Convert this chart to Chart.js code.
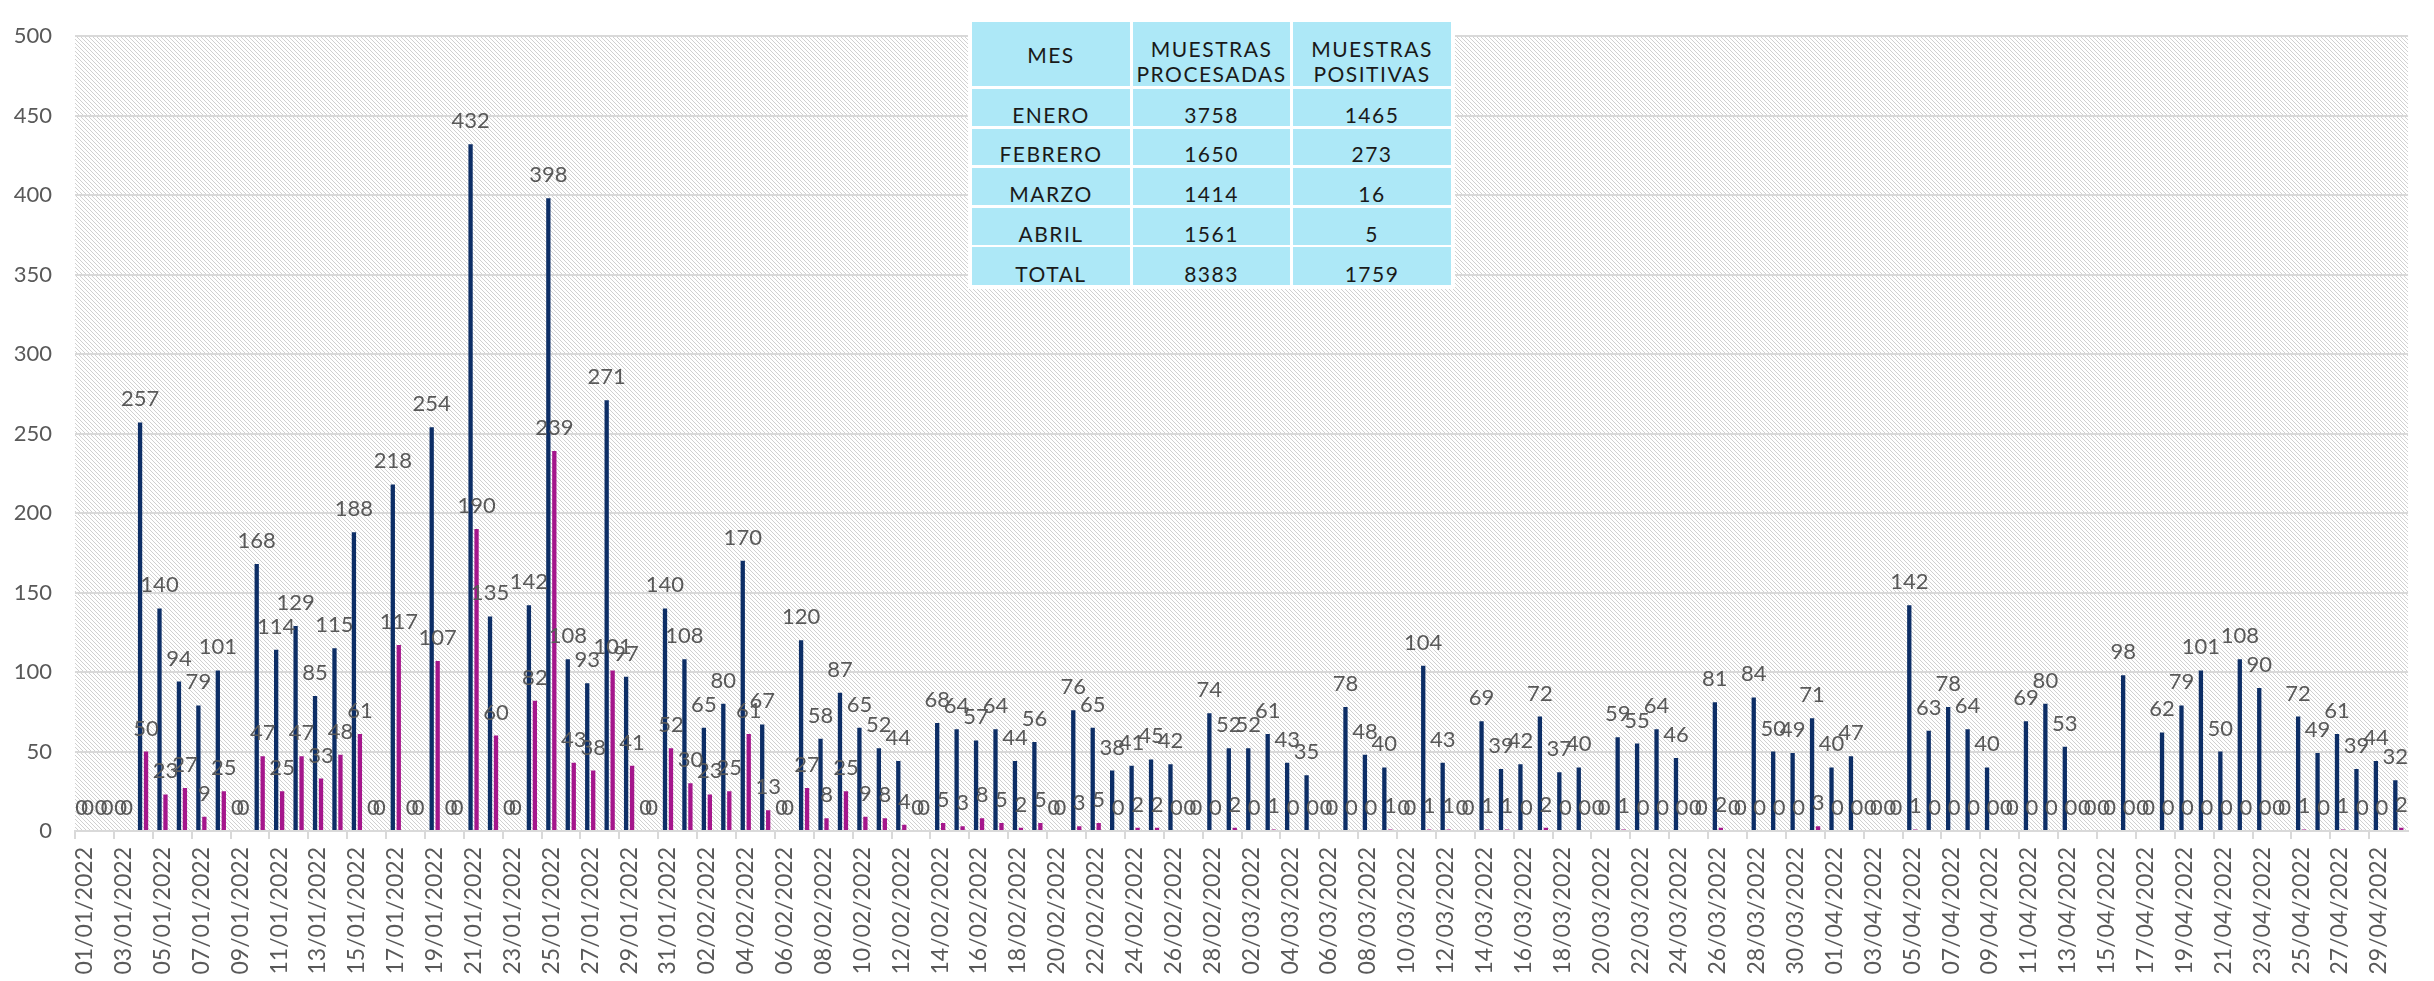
<!DOCTYPE html>
<html>
<head>
<meta charset="utf-8">
<script src="https://cdn.jsdelivr.net/npm/chart.js@4.4.1/dist/chart.umd.min.js"></script>
<style>
html,body{margin:0;padding:0;background:#fff;}
#wrap{position:relative;width:2434px;height:981px;overflow:hidden;}
#c{display:block;}
#tbl{position:absolute;left:968px;top:17px;width:487px;height:272px;background:#fff;}
.cell{position:absolute;background:#ade8f7;color:#1a1a1a;font-family:Lato,"Open Sans",sans-serif;font-size:21px;letter-spacing:1.5px;display:flex;justify-content:center;align-items:flex-end;text-align:center;box-sizing:border-box;line-height:1;padding-bottom:1px;}
.cell.h2{line-height:25px;padding-bottom:0;}
.cell.h1{padding-bottom:21px;}
</style>
</head>
<body>
<div id="wrap">
<canvas id="c" width="2434" height="981"></canvas>
<div id="tbl"></div>
</div>
<script>
// ---------- DATA ----------
const fechas = [
"01/01/2022","02/01/2022","03/01/2022","04/01/2022","05/01/2022","06/01/2022","07/01/2022","08/01/2022","09/01/2022","10/01/2022",
"11/01/2022","12/01/2022","13/01/2022","14/01/2022","15/01/2022","16/01/2022","17/01/2022","18/01/2022","19/01/2022","20/01/2022",
"21/01/2022","22/01/2022","23/01/2022","24/01/2022","25/01/2022","26/01/2022","27/01/2022","28/01/2022","29/01/2022","30/01/2022",
"31/01/2022","01/02/2022","02/02/2022","03/02/2022","04/02/2022","05/02/2022","06/02/2022","07/02/2022","08/02/2022","09/02/2022",
"10/02/2022","11/02/2022","12/02/2022","13/02/2022","14/02/2022","15/02/2022","16/02/2022","17/02/2022","18/02/2022","19/02/2022",
"20/02/2022","21/02/2022","22/02/2022","23/02/2022","24/02/2022","25/02/2022","26/02/2022","27/02/2022","28/02/2022","01/03/2022",
"02/03/2022","03/03/2022","04/03/2022","05/03/2022","06/03/2022","07/03/2022","08/03/2022","09/03/2022","10/03/2022","11/03/2022",
"12/03/2022","13/03/2022","14/03/2022","15/03/2022","16/03/2022","17/03/2022","18/03/2022","19/03/2022","20/03/2022","21/03/2022",
"22/03/2022","23/03/2022","24/03/2022","25/03/2022","26/03/2022","27/03/2022","28/03/2022","29/03/2022","30/03/2022","31/03/2022",
"01/04/2022","02/04/2022","03/04/2022","04/04/2022","05/04/2022","06/04/2022","07/04/2022","08/04/2022","09/04/2022","10/04/2022",
"11/04/2022","12/04/2022","13/04/2022","14/04/2022","15/04/2022","16/04/2022","17/04/2022","18/04/2022","19/04/2022","20/04/2022",
"21/04/2022","22/04/2022","23/04/2022","24/04/2022","25/04/2022","26/04/2022","27/04/2022","28/04/2022","29/04/2022","30/04/2022"
];

const procesadas = [
0,0,0,257,140,94,79,101,0,168,
114,129,85,115,188,0,218,0,254,0,
432,135,0,142,398,108,93,271,97,0,
140,108,65,80,170,67,0,120,58,87,
65,52,44,0,68,64,57,64,44,56,
0,76,65,38,41,45,42,0,74,52,
52,61,43,35,0,78,48,40,0,104,
43,0,69,39,42,72,37,40,0,59,
55,64,46,0,81,0,84,50,49,71,
40,47,0,0,142,63,78,64,40,0,
69,80,53,0,0,98,0,62,79,101,
50,108,90,0,72,49,61,39,44,32
];

const positivas = [
0,0,0,50,23,27,9,25,0,47,
25,47,33,48,61,0,117,0,107,0,
190,60,0,82,239,43,38,101,41,0,
52,30,23,25,61,13,0,27,8,25,
9,8,4,0,5,3,8,5,2,5,
0,3,5,0,2,2,0,0,0,2,
0,1,0,0,0,0,0,1,0,1,
1,0,1,1,0,2,0,0,0,1,
0,0,0,0,2,0,0,0,0,3,
0,0,0,0,1,0,0,0,0,0,
0,0,0,0,0,0,0,0,0,0,
0,0,0,0,1,0,1,0,0,2
];

const yTicks = [0,50,100,150,200,250,300,350,400,450,500];

const tablaEncabezados = ["MES", "MUESTRAS<br>PROCESADAS", "MUESTRAS<br>POSITIVAS"];
const tablaMeses = ["ENERO","FEBRERO","MARZO","ABRIL","TOTAL"];
const tablaProcesadas = [3758,1650,1414,1561,8383];
const tablaPositivas = [1465,273,16,5,1759];

// ---------- TABLE ----------
(function(){
  const tbl = document.getElementById('tbl');
  const colX = [4, 165, 325];
  const colW = [158, 157, 158];
  const rows = [[5,64],[72,37],[112,36],[151,37],[191,37],[230,38]];
  function add(r,c,html,cls){
    const d=document.createElement('div');
    d.className='cell'+(cls?' '+cls:'');
    d.style.left=colX[c]+'px'; d.style.width=colW[c]+'px';
    d.style.top=rows[r][0]+'px'; d.style.height=rows[r][1]+'px';
    d.innerHTML=html; tbl.appendChild(d);
  }
  add(0,0,tablaEncabezados[0],'h1');
  add(0,1,tablaEncabezados[1],'h2');
  add(0,2,tablaEncabezados[2],'h2');
  tablaMeses.forEach((m,i)=>{
    add(i+1,0,m); add(i+1,1,String(tablaProcesadas[i])); add(i+1,2,String(tablaPositivas[i]));
  });
})();

// ---------- CHART ----------
Chart.defaults.font.family = 'Lato, "Open Sans", sans-serif';
Chart.defaults.color = '#595959';

const tile = document.createElement('canvas');
tile.width = 4; tile.height = 4;
const tctx = tile.getContext('2d');
tctx.fillStyle = '#ffffff'; tctx.fillRect(0,0,4,4);
tctx.fillStyle = '#d0d0d0';
for (let i=0;i<4;i++){ tctx.fillRect(i,i,1,1); }

const hatchPlugin = {
  id: 'hatch',
  beforeDraw(chart){
    const {ctx, chartArea:a} = chart;
    ctx.save();
    ctx.fillStyle = ctx.createPattern(tile,'repeat');
    ctx.fillRect(a.left, a.top, a.right-a.left, a.bottom-a.top);
    ctx.restore();
  }
};

const labelPlugin = {
  id: 'vlabels',
  afterDatasetsDraw(chart){
    const ctx = chart.ctx;
    ctx.save();
    ctx.font = '22px Lato, "Open Sans", sans-serif';
    ctx.fillStyle = '#595959';
    ctx.textAlign = 'center';
    ctx.textBaseline = 'alphabetic';
    chart.data.datasets.forEach((ds, di) => {
      const meta = chart.getDatasetMeta(di);
      meta.data.forEach((bar, i) => {
        ctx.fillText(String(ds.data[i]), bar.x, bar.y - 16);
      });
    });
    ctx.restore();
  }
};

new Chart(document.getElementById('c'), {
  type: 'bar',
  data: {
    labels: fechas,
    datasets: [
      { label: 'Muestras procesadas', data: procesadas, backgroundColor: '#0d2e66', borderWidth: 0,
        categoryPercentage: 0.615, barPercentage: 0.72 },
      { label: 'Muestras positivas', data: positivas, backgroundColor: '#a5168c', borderWidth: 0,
        categoryPercentage: 0.615, barPercentage: 0.72 }
    ]
  },
  options: {
    responsive: false,
    devicePixelRatio: 1,
    animation: false,
    layout: { padding: { top: 16, right: 19, left: 0, bottom: 0 } },
    plugins: { legend: { display: false }, tooltip: { enabled: false } },
    scales: {
      x: {
        grid: {
          display: true, drawOnChartArea: false, drawTicks: true, tickLength: 8, lineWidth: 2,
          color: (c) => (c.index % 2 === 0 ? '#d9d9d9' : 'rgba(0,0,0,0)')
        },
        border: { display: true, color: '#d9d9d9', width: 2 },
        ticks: {
          autoSkip: false, maxRotation: 90, minRotation: 90, padding: 8,
          font: { size: 23 }, color: '#595959',
          callback: function(v, i){ return i % 2 === 0 ? fechas[i] : ''; }
        },
        afterFit: (s) => { s.height = 150; }
      },
      y: {
        min: 0, max: 500,
        afterBuildTicks: (s) => { s.ticks = yTicks.map(v => ({ value: v })); },
        grid: { color: '#d9d9d9', lineWidth: 2, drawTicks: false },
        border: { display: false },
        ticks: { padding: 23, font: { size: 22 }, color: '#595959' },
        afterFit: (s) => { s.width = 75; }
      }
    }
  },
  plugins: [hatchPlugin, labelPlugin]
});
</script>
</body>
</html>
